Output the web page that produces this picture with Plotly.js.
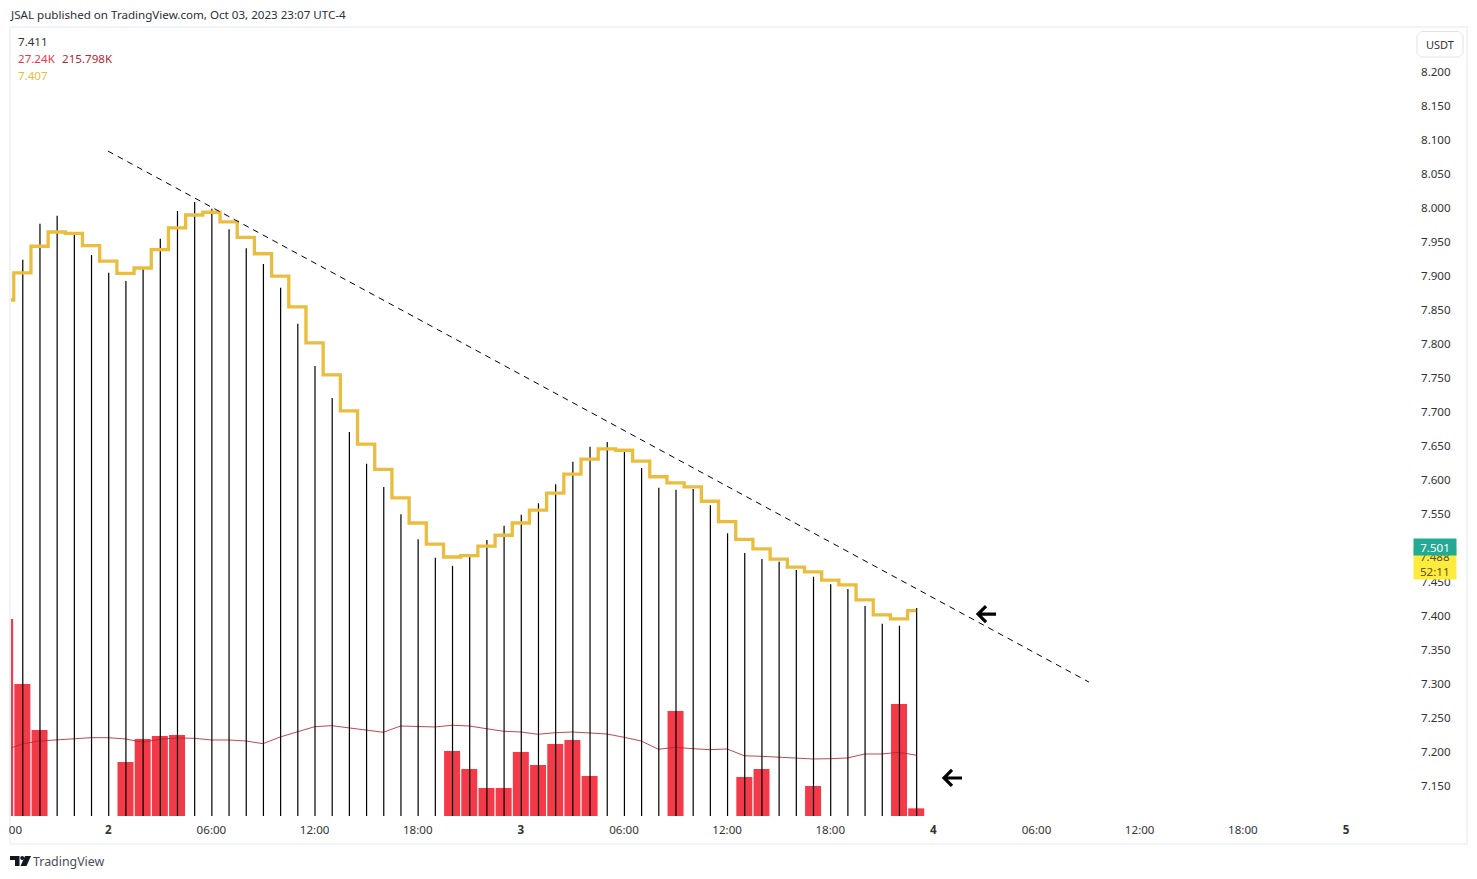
<!DOCTYPE html>
<html>
<head>
<meta charset="utf-8">
<script src="https://cdn.plot.ly/plotly-3.0.1.min.js"></script>
<style>
	html, body {margin: 0; padding: 0; background: #fff; overflow: hidden;}
</style>
</head>
<body>
<div id="chart"></div>
<script>
// hours since Oct 2 00:00 (UTC-4), one entry per bar
var hours = [-6, -5, -4, -3, -2, -1, 0, 1, 2, 3, 4, 5, 6, 7, 8, 9, 10, 11, 12, 13, 14, 15, 16, 17,
	18, 19, 20, 21, 22, 23, 24, 25, 26, 27, 28, 29, 30, 31, 32, 33, 34, 35, 36, 37, 38, 39, 40, 41,
	42, 43, 44, 45, 46, 47];

var closes = [7.870, 7.923, 7.976, 7.988, 7.964, 7.930, 7.904, 7.892, 7.910, 7.954, 7.995, 8.008,
	7.998, 7.968, 7.940, 7.917, 7.882, 7.829, 7.767, 7.720, 7.670, 7.623, 7.589, 7.549,
	7.512, 7.485, 7.473, 7.486, 7.511, 7.532, 7.548, 7.565, 7.593, 7.626, 7.648, 7.655,
	7.645, 7.617, 7.588, 7.585, 7.586, 7.562, 7.521, 7.492, 7.483, 7.479, 7.467, 7.457,
	7.446, 7.439, 7.414, 7.388, 7.385, 7.411];

// yellow stepped series
var stepLine = [7.864, 7.904, 7.943, 7.964, 7.962, 7.944, 7.921, 7.903, 7.911, 7.938, 7.970, 7.989,
	7.993, 7.979, 7.956, 7.932, 7.899, 7.854, 7.801, 7.754, 7.701, 7.652, 7.615, 7.573,
	7.536, 7.505, 7.486, 7.488, 7.502, 7.518, 7.536, 7.555, 7.580, 7.608, 7.630, 7.645,
	7.643, 7.627, 7.604, 7.595, 7.589, 7.568, 7.538, 7.512, 7.498, 7.483, 7.471, 7.464,
	7.452, 7.445, 7.423, 7.401, 7.395, 7.407];

// only the red volume bars show, the others are null (in K)
var redVolume = [699, 468.6, 305.3, null, null, null, null, 191.7, 273.4, 284, 287.6, null,
	null, null, null, null, null, null, null, null, null, null, null, null,
	null, null, 230.8, 166.9, 99.4, 99.4, 227.2, 181, 255.6, 269.8, 142, null,
	null, null, null, 372.8, null, null, null, 138.5, 166.9, null, null, 106.5,
	null, null, null, null, 397.6, 27.24];

var volumeMa = [234.3, 255.6, 266.3, 269.8, 275.8, 278, 278, 273.4, 261.6, 272.3, 276.9, 275.8,
	269.8, 269.8, 266.3, 256.7, 280.5, 298.2, 317, 320.6, 312.4, 305.3, 297.1, 319.5,
	318.4, 316, 322, 319.5, 309.9, 300.7, 298.2, 290, 295.7, 298.2, 294.7, 291.1,
	279.4, 266.3, 236.8, 243.9, 238.9, 235.4, 237.9, 213.7, 211.9, 208.4, 204.8, 202.4,
	203.4, 205.9, 220.1, 220.1, 226.1, 215.798];

// dashed trendline end points
var trendHours = [-0.02, 57.05];
var trendPrices = [8.083, 7.302];

// arrow tips [hour, price]
var arrowTips = [[50.48, 7.402], [48.5, 7.161]];

var priceTicks = [7.15, 7.2, 7.25, 7.3, 7.35, 7.4, 7.45, 7.5, 7.55, 7.6, 7.65, 7.7, 7.75, 7.8,
	7.85, 7.9, 7.95, 8.0, 8.05, 8.1, 8.15, 8.2];
var timeTicks = [-5.4, 0, 6, 12, 18, 24, 30, 36, 42, 48, 54, 60, 66, 72];
var timeLabels = ['00', '<b>2</b>', '06:00', '12:00', '18:00', '<b>3</b>', '06:00', '12:00', '18:00',
	'<b>4</b>', '06:00', '12:00', '18:00', '<b>5</b>'];

var priceRange = [7.1051, 8.264];
var volumeRange = [0, 2797];

var fontName = '"Noto Sans", sans-serif';
var fontSize = 11.6;
var yellow = '#ebbd3e';
var W = 1477, H = 879;
var m = {l: 11, r: 64, t: 28, b: 63};

// page pixels to paper coordinates, for the furniture round the plot
function pxX(x) { return (x - m.l) / (W - m.l - m.r); }
function pxY(y) { return 1 - (y - m.t) / (H - m.t - m.b); }

function label(x, y, text, color, extra) {
	let a = {xref: 'paper', yref: 'paper', x: pxX(x), y: pxY(y), text: text, showarrow: false,
		xanchor: 'left', yanchor: 'middle', borderpad: 0, font: {family: fontName, size: fontSize, color: color}};
	return Object.assign(a, extra || {});
}

function pxPath(cmds) {
	return cmds.map(function(c) {
		return c.length == 1 ? c[0] : c[0] + ' ' + pxX(c[1]) + ' ' + pxY(c[2]);
	}).join(' ');
}

var data = [
	{type: 'bar', x: hours, y: redVolume, width: 0.93, yaxis: 'y',
		marker: {color: '#f23645', opacity: 0.98, line: {width: 0}}, hoverinfo: 'skip'},
	{type: 'scatter', mode: 'lines', x: hours, y: volumeMa, yaxis: 'y',
		line: {color: '#b22833', width: 1}, opacity: 0.85, hoverinfo: 'skip'},
	{type: 'bar', x: hours, y: closes.map(function(c) { return c - priceRange[0]; }), base: priceRange[0],
		width: 0.07, offset: -0.01, yaxis: 'y2', marker: {color: '#000', line: {width: 0}}, hoverinfo: 'skip'},
	{type: 'scatter', mode: 'lines', x: hours, y: stepLine, yaxis: 'y2',
		line: {color: yellow, width: 3.3, shape: 'hvh'}, hoverinfo: 'skip'},
	{type: 'scatter', mode: 'lines', x: trendHours, y: trendPrices, yaxis: 'y2',
		line: {color: '#000', width: 1, dash: '6px,5px'}, hoverinfo: 'skip'}
];

var shapes = [
	// frame
	{type: 'rect', xref: 'paper', yref: 'paper', x0: pxX(10), x1: pxX(1467), y0: pxY(27), y1: pxY(844),
		line: {color: '#f0f3fa', width: 2}, layer: 'below'},
	// USDT button
	{type: 'path', xref: 'paper', yref: 'paper', line: {color: '#e0e3eb', width: 1}, fillcolor: '#fff',
		path: pxPath([['M', 1421, 31.5], ['L', 1459, 31.5], ['L', 1463, 35.5], ['L', 1463, 53], ['L', 1459, 57],
			['L', 1421, 57], ['L', 1417, 53], ['L', 1417, 35.5], ['Z']])},
	// TradingView logo
	{type: 'path', xref: 'paper', yref: 'paper', line: {width: 0}, fillcolor: '#131722',
		path: pxPath([['M', 10, 856], ['L', 19.5, 856], ['L', 19.5, 866], ['L', 15, 866], ['L', 15, 860], ['L', 10, 860], ['Z']])},
	{type: 'path', xref: 'paper', yref: 'paper', line: {width: 0}, fillcolor: '#131722',
		path: pxPath([['M', 25, 856], ['L', 31, 856], ['L', 26.5, 866], ['L', 20.5, 866], ['Z']])},
	{type: 'circle', xref: 'paper', yref: 'paper', line: {width: 0}, fillcolor: '#131722',
		x0: pxX(20.2), x1: pxX(24.2), y0: pxY(856), y1: pxY(860)}
];

arrowTips.forEach(function(tip) {
	shapes.push({type: 'path', xref: 'x', yref: 'y2', xsizemode: 'pixel', ysizemode: 'pixel',
		xanchor: tip[0], yanchor: tip[1], line: {color: '#000', width: 3.2},
		path: 'M 20 0 L 2 0 M 10 -8 L 2 0 L 10 8'});
});

var annotations = [
	label(8.5, 14.5, 'JSAL published on TradingView.com, Oct 03, 2023 23:07 UTC-4', '#2a2e39'),
	label(17, 41.5, '7.411', '#333333'),
	label(17, 58.5, '27.24K', '#f23645'),
	label(61, 58.5, '215.798K', '#b22833'),
	label(17, 75.5, '7.407', yellow),
	label(32, 861, 'TradingView', '#4a4e5a', {font: {family: fontName, size: 12.4, color: '#4a4e5a'}}),
	label(1425, 44.5, 'USDT', '#333333', {font: {family: fontName, size: 11, color: '#333333'}}),
	// yellow countdown box sits under the green last price box
	label(1413, 564, '7.488<br>52:11', '#5a5320', {width: 42, height: 30, align: 'center', bgcolor: '#ffeb3b',
		font: {family: fontName, size: fontSize, color: '#5a5320'}}),
	label(1413, 547, '7.501', '#ffffff', {width: 42, height: 16, align: 'center', bgcolor: '#22ab94',
		font: {family: fontName, size: fontSize, color: '#ffffff'}})
];

var layout = {
	width: W,
	height: H,
	margin: m,
	paper_bgcolor: '#fff',
	plot_bgcolor: '#fff',
	showlegend: false,
	barmode: 'overlay',
	xaxis: {
		range: [-5.66, 75.9],
		tickmode: 'array',
		tickvals: timeTicks,
		ticktext: timeLabels,
		tickangle: 0,
		ticks: '',
		ticklabelstandoff: 5,
		showgrid: false,
		zeroline: false,
		showline: false,
		tickfont: {family: fontName, size: fontSize, color: '#333333'}
	},
	yaxis: {
		range: volumeRange,
		visible: false,
		fixedrange: true
	},
	yaxis2: {
		range: priceRange,
		overlaying: 'y',
		side: 'right',
		tickmode: 'array',
		tickvals: priceTicks,
		tickformat: '.3f',
		ticks: '',
		ticklabelstandoff: 7,
		showgrid: false,
		zeroline: false,
		showline: false,
		tickfont: {family: fontName, size: fontSize, color: '#333333'}
	},
	shapes: shapes,
	annotations: annotations
};

Plotly.newPlot('chart', data, layout, {displayModeBar: false, staticPlot: true});
</script>
</body>
</html>
